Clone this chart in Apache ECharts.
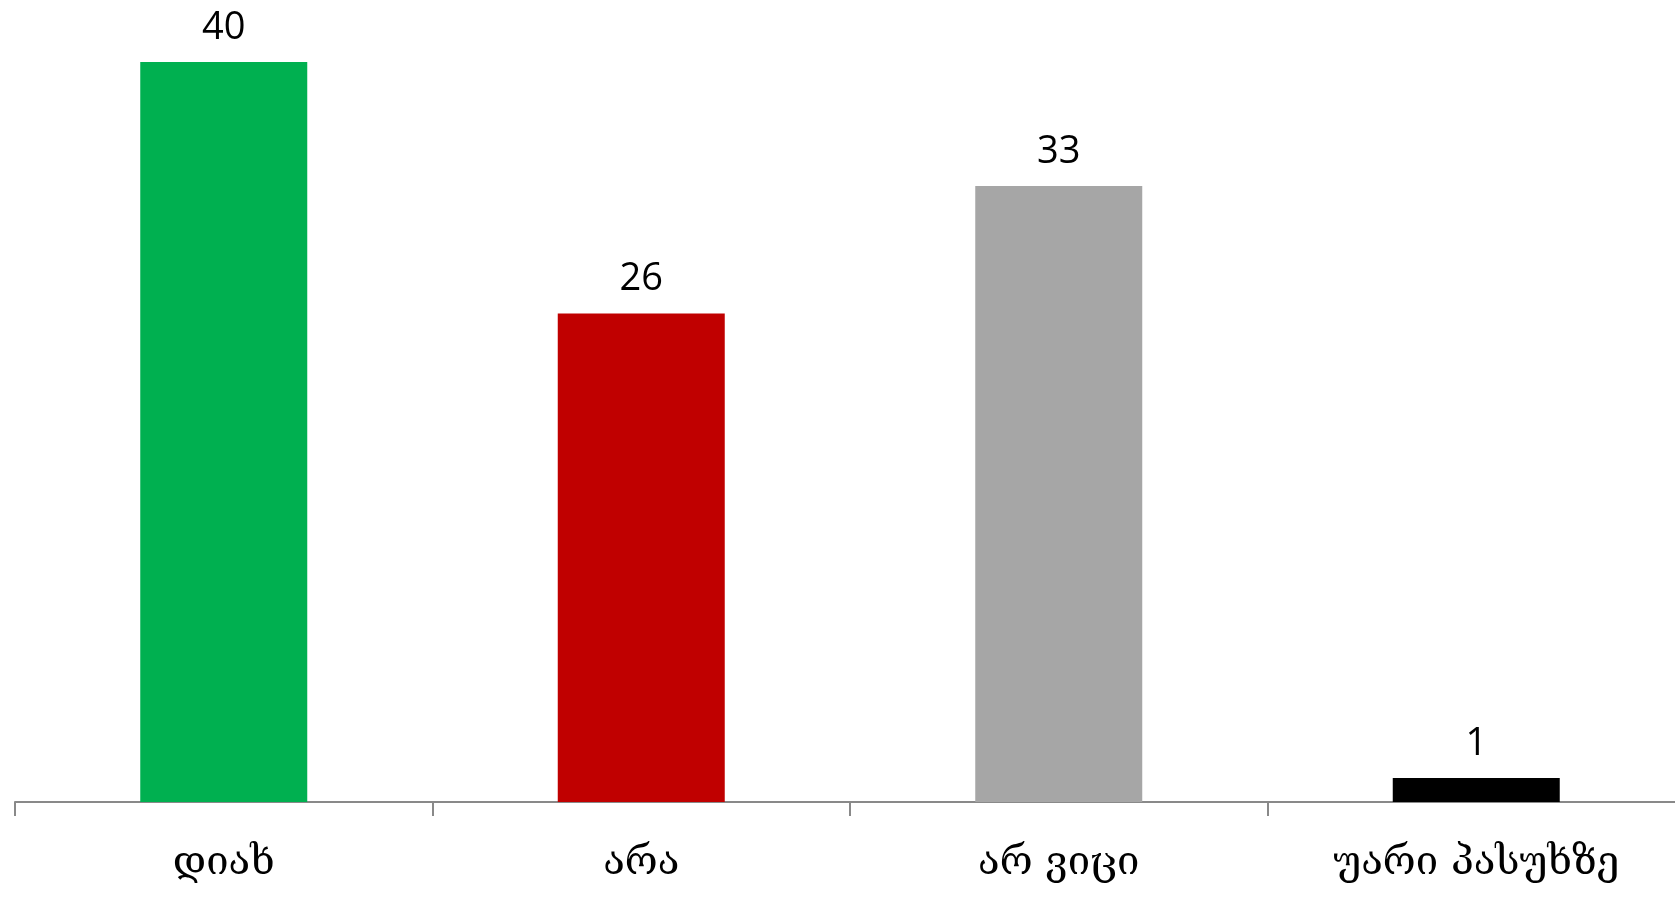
<!DOCTYPE html>
<html>
<head>
<meta charset="utf-8">
<script src="https://cdn.jsdelivr.net/npm/echarts@6/dist/echarts.min.js"></script>
<style>
html,body{margin:0;padding:0;background:#fff;}
#chart{width:1675px;height:905px;}
</style>
</head>
<body>
<div id="chart"></div>
<script>
const categories = ['დიახ', 'არა', 'არ ვიცი', 'უარი პასუხზე'];
const values = [40, 26.4, 33.3, 1.3];
const colors = ['#00B050', '#C00000', '#A6A6A6', '#000000'];

const chart = echarts.init(document.getElementById('chart'), null, {renderer: 'canvas'});
chart.setOption({
  animation: false,
  grid: {left: 15, top: 62, width: 1670, height: 740, containLabel: false, outerBoundsMode: 'none'},
  xAxis: {
    type: 'category',
    data: categories,
    axisLine: {lineStyle: {color: '#898989', width: 2}},
    axisTick: {show: true, length: 14, lineStyle: {color: '#898989', width: 2}},
    axisLabel: {
      margin: 42,
      color: '#000',
      fontFamily: 'DejaVu Serif',
      fontSize: 40,
      interval: 0
    }
  },
  yAxis: {
    type: 'value',
    min: 0,
    max: 40,
    show: false,
    splitLine: {show: false}
  },
  series: [{
    type: 'bar',
    barWidth: '40%',
    data: values.map((v, i) => ({value: v, itemStyle: {color: colors[i]}})),
    label: {
      show: true,
      position: 'top',
      distance: 15,
      color: '#000',
      fontFamily: 'Open Sans',
      fontSize: 38,
      formatter: p => Math.round(p.value)
    }
  }]
});
</script>
</body>
</html>
